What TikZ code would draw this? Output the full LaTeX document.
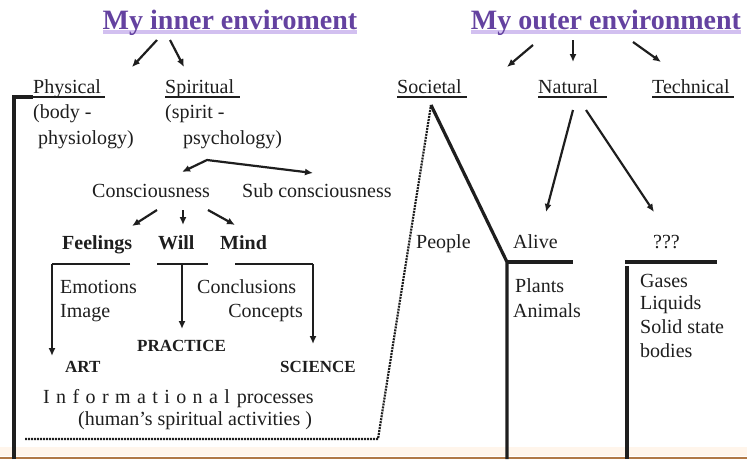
\documentclass[tikz,border=0pt]{standalone}
\usepackage{fontspec}
\setmainfont{Liberation Serif}
\usetikzlibrary{arrows.meta,backgrounds}
\definecolor{ink}{RGB}{30,30,30}
\definecolor{ttl}{RGB}{100,66,160}
\definecolor{hl}{RGB}{210,192,240}
\definecolor{edgeline}{RGB}{176,120,70}
\begin{document}
\begin{tikzpicture}[x=1pt,y=-1pt,
  txt/.style={inner sep=0pt, anchor=base west, text=ink, font=\fontsize{20}{24}\selectfont},
  ttlstyle/.style={inner sep=0pt, anchor=base, text=ttl, font=\fontsize{28}{32}\selectfont\bfseries},
  bld/.style={txt, font=\fontsize{20}{24}\selectfont\bfseries},
  caps/.style={txt, font=\fontsize{17}{20}\selectfont\bfseries},
  arr/.style={draw=ink, line width=2.2pt, -{Latex[length=8pt,width=7pt]}},
  darr/.style={draw=ink, line width=2.2pt, {Latex[length=8pt,width=7pt]}-{Latex[length=8pt,width=7pt]}},
  heavy/.style={draw=ink, line width=3.2pt},
  branch/.style={draw=ink, line width=2.4pt},
  uline/.style={draw=ink, line width=1.2pt},
  dotline/.style={draw=ink, line width=2.2pt, dash pattern=on 2pt off 1pt},
]
\useasboundingbox (0,0) rectangle (747,459);
\begin{scope}[on background layer]
  \fill[white] (0,0) rectangle (747,459);
  \fill[orange!8] (0,447) rectangle (747,456);
\end{scope}
\draw[edgeline, line width=2pt] (0,457.5) -- (747,457.5);

% titles
\node[ttlstyle] (inner) at (230,29) {My inner enviroment};
\node[ttlstyle] (outer) at (606,29) {My outer environment};
\begin{scope}[on background layer]
  \fill[hl] ([yshift=-1pt]inner.base west) rectangle ([yshift=-5pt]inner.base east);
  \fill[hl] ([yshift=-1pt]outer.base west) rectangle ([yshift=-5pt]outer.base east);
\end{scope}

% level 1 headings
\node[txt] (phys) at (33,93) {Physical};
\node[txt] (spir) at (165,93) {Spiritual};
\node[txt] (soc) at (397,93) {Societal};
\node[txt] (nat) at (538,93) {Natural};
\node[txt] (tech) at (652,93) {Technical};
\draw[uline] (phys.base west) ++(0,4) -- ++(72,0);
\draw[uline] (spir.base west) ++(0,4) -- ++(75,0);
\draw[uline] (soc.base west) ++(0,4) -- ++(70,0);
\draw[uline] (nat.base west) ++(0,4) -- ++(69,0);
\draw[uline] (tech.base west) ++(0,4) -- ++(82,0);

% title arrows
\coordinate (i1) at (157,40); \coordinate (i1e) at (132,67);
\coordinate (i2) at (170,40); \coordinate (i2e) at (184,67);
\draw[arr] (i1) -- (i1e);
\draw[arr] (i2) -- (i2e);
\coordinate (o1) at (533,45); \coordinate (o1e) at (507,67);
\coordinate (o2) at (573,40); \coordinate (o2e) at (573,62);
\coordinate (o3) at (633,42); \coordinate (o3e) at (661,62);
\draw[arr] (o1) -- (o1e);
\draw[arr] (o2) -- (o2e);
\draw[arr] (o3) -- (o3e);

% inner text
\node[txt] (body) at (33,118) {(body -};
\node[txt] (physio) at (38,144) {physiology)};
\node[txt] (spirit) at (165,118) {(spirit -};
\node[txt] (psych) at (183,144) {psychology)};
\node[txt] (cons) at (92,197) {Consciousness};
\node[txt] (subc) at (242,197) {Sub consciousness};
\coordinate (peak) at (207,160);
\coordinate (cl) at (182,172);
\coordinate (cr) at (313,173);
\draw[darr] (cl) -- (peak) -- (cr);

\node[bld] (feel) at (62,249) {Feelings};
\node[bld] (will) at (158,249) {Will};
\node[bld] (mind) at (220,249) {Mind};
\coordinate (c1) at (157,210); \coordinate (c1e) at (132,226);
\coordinate (c2) at (183,210); \coordinate (c2e) at (183,225);
\coordinate (c3) at (208,210); \coordinate (c3e) at (235,225);
\draw[arr] (c1) -- (c1e);
\draw[arr] (c2) -- (c2e);
\draw[arr] (c3) -- (c3e);

\node[txt] (emo) at (60,293) {Emotions};
\node[txt] (img) at (60,317) {Image};
\node[txt] (concl) at (197,293) {Conclusions};
\node[txt, anchor=base east] (concp) at (303,317) {Concepts};
\node[caps] (prac) at (137,351) {PRACTICE};
\node[caps] (art) at (65,372) {ART};
\node[caps] (sci) at (280,372) {SCIENCE};
\node[txt] (info) at (43,403) {\spaceskip=6.4pt I n f o r m a t i o n a l\hspace{7pt}processes};
\node[txt] (human) at (78,425) {(human's spiritual activities )};

% branches
\coordinate (f0) at (130,264); \coordinate (f1) at (52,264); \coordinate (f2) at (52,356);
\draw[branch] (f0) -- (f1);
\draw[arr, line width=2.4pt] (f1) -- (f2);
\coordinate (w0) at (157,264); \coordinate (w1) at (208,264); \coordinate (w2) at (182,264); \coordinate (w3) at (182,329);
\draw[branch] (w0) -- (w1);
\draw[arr, line width=2.4pt] (w2) -- (w3);
\coordinate (m0) at (235,264); \coordinate (m1) at (313,264); \coordinate (m2) at (313,344);
\draw[branch] (m0) -- (m1);
\draw[arr, line width=2.4pt] (m1) -- (m2);

% left frame
\coordinate (lb) at (14,459); \coordinate (lt) at (14,97);
\draw[heavy] (lb) -- (lt) -- (phys.base west |- lt);

% dotted frame
\coordinate (d0) at (25,439); \coordinate (d1) at (378,439); \coordinate (d2) at (431,105);
\draw[dotline] (d0) -- (d1) -- (d2);

% outer
\node[txt] (people) at (416,248) {People};
\node[txt] (alive) at (513,248) {Alive};
\node[txt] (qqq) at (653,248) {???};
\node[txt] (plants) at (515,292) {Plants};
\node[txt] (animals) at (513,317) {Animals};
\node[txt] (gases) at (640,287) {Gases};
\node[txt] (liquids) at (640,309) {Liquids};
\node[txt] (solid) at (640,333) {Solid state};
\node[txt] (bodies) at (640,357) {bodies};

\coordinate (s0) at (431,105); \coordinate (s1) at (507,262); \coordinate (s2) at (507,459); \coordinate (s3) at (573,262);
\draw[heavy] (s0) -- (s1) -- (s2);
\draw[heavy] (s1) -- (s3);
\coordinate (t0) at (625,262); \coordinate (t1) at (717,262); \coordinate (t2) at (627,266); \coordinate (t3) at (627,459);
\draw[heavy] (t0) -- (t1);
\draw[heavy] (t2) -- (t3);

\coordinate (n1) at (573,110); \coordinate (n1e) at (546,212);
\coordinate (n2) at (586,110); \coordinate (n2e) at (654,212);
\draw[arr] (n1) -- (n1e);
\draw[arr] (n2) -- (n2e);
\end{tikzpicture}
\end{document}
